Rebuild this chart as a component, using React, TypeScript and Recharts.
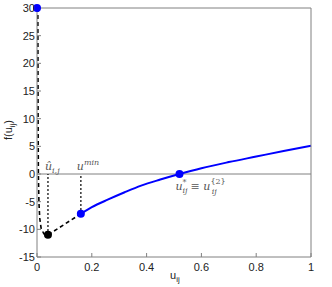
import React from 'react';
import { ComposedChart, Line, XAxis, YAxis, ReferenceLine, ReferenceDot, Scatter } from 'recharts';

const xTicks = [0, 0.2, 0.4, 0.6, 0.8, 1];
const yTicks = [-15, -10, -5, 0, 5, 10, 15, 20, 25, 30];

const curveU = [0.16, 0.2, 0.26, 0.32, 0.38, 0.45, 0.52, 0.6, 0.7, 0.8, 0.9, 1.0];
const curveF = [-7.2, -6.0, -4.6, -3.3, -2.1, -1.0, 0, 1.05, 2.15, 3.15, 4.15, 5.1];

const dashU = [0.003, 0.004, 0.005, 0.007, 0.01, 0.015, 0.025, 0.04, 0.16];
const dashF = [30, 10, 0, -5, -8, -9.8, -10.8, -11, -7.2];

const blueDotU = [0, 0.16, 0.52];
const blueDotF = [30, -7.2, 0];

const blackDotU = [0.04];
const blackDotF = [-11];

const curve = curveU.map((u, i) => ({ u, f: curveF[i] }));
const dashed = dashU.map((u, i) => ({ u, f: dashF[i] }));
const blueDots = blueDotU.map((u, i) => ({ u, f: blueDotF[i] }));
const blackDots = blackDotU.map((u, i) => ({ u, f: blackDotF[i] }));
const dot1 = [{ u: 0.04, f: -11 }, { u: 0.04, f: 0 }];
const dot2 = [{ u: 0.16, f: -7.2 }, { u: 0.16, f: 0 }];

const axisColor = '#808080';
const tickStyle = { fontSize: 11, fill: '#222', fontFamily: 'Liberation Sans, Arial, sans-serif' };
const mathFont = 'DejaVu Serif, Liberation Serif, serif';

export default function App() {
  return (
    <div style={{ position: 'absolute', left: 0, top: 0, background: '#fff' }}>
      <ComposedChart width={332} height={287} margin={{ top: 7, right: 20, left: 36, bottom: 29 }}>
        <XAxis xAxisId="b" dataKey="u" type="number" domain={[0, 1]} ticks={xTicks} height={1}
          stroke={axisColor} tickSize={-4} tickMargin={10} tick={tickStyle} tickFormatter={(v) => String(v)} interval={0} />
        <XAxis xAxisId="t" orientation="top" dataKey="u" type="number" domain={[0, 1]} ticks={xTicks} height={1}
          stroke={axisColor} tickSize={-4} tick={false} interval={0} />
        <YAxis yAxisId="l" type="number" domain={[-15, 30]} ticks={yTicks} width={1}
          stroke={axisColor} tickSize={-4} tickMargin={6} tick={tickStyle} interval={0} />
        <YAxis yAxisId="r" orientation="right" type="number" domain={[-15, 30]} ticks={yTicks} width={1}
          stroke={axisColor} tickSize={-4} tick={false} interval={0} />
        <ReferenceLine xAxisId="b" yAxisId="l" y={0} stroke={axisColor} strokeWidth={1} />
        <Line xAxisId="b" yAxisId="l" data={dot1} dataKey="f" stroke="#000" strokeWidth={1.6} strokeDasharray="1.5 2.5" dot={false} isAnimationActive={false} />
        <Line xAxisId="b" yAxisId="l" data={dot2} dataKey="f" stroke="#000" strokeWidth={1.6} strokeDasharray="1.5 2.5" dot={false} isAnimationActive={false} />
        <Line xAxisId="b" yAxisId="l" data={dashed} dataKey="f" type="linear" stroke="#000" strokeWidth={1.6} strokeDasharray="4 3" dot={false} isAnimationActive={false} />
        <Line xAxisId="b" yAxisId="l" data={curve} dataKey="f" type="monotone" stroke="#0000ff" strokeWidth={2} dot={false} isAnimationActive={false} />
        <Scatter xAxisId="b" yAxisId="l" data={blueDots} dataKey="f" fill="#0000ff"
          shape={(p: any) => <circle cx={p.cx} cy={p.cy} r={4} fill="#0000ff" />} isAnimationActive={false} />
        <Scatter xAxisId="b" yAxisId="l" data={blackDots} dataKey="f" fill="#000"
          shape={(p: any) => <circle cx={p.cx} cy={p.cy} r={4} fill="#000" />} isAnimationActive={false} />
        <ReferenceDot xAxisId="b" yAxisId="l" x={0.04} y={0} r={0}
          shape={(p: any) => (
            <text x={p.cx - 3} y={p.cy - 4} fontFamily={mathFont} fontStyle="italic" fontSize={11} fill="#555">
              û<tspan dy={3} fontSize={8}>i,j</tspan>
            </text>
          )} />
        <ReferenceDot xAxisId="b" yAxisId="l" x={0.16} y={0} r={0}
          shape={(p: any) => (
            <text x={p.cx - 4} y={p.cy - 4} fontFamily={mathFont} fontStyle="italic" fontSize={11} fill="#555">
              u<tspan dy={-5} fontSize={8}>min</tspan>
            </text>
          )} />
        <ReferenceDot xAxisId="b" yAxisId="l" x={0.52} y={0} r={0}
          shape={(p: any) => (
            <text x={p.cx - 4} y={p.cy + 16} fontFamily={mathFont} fontSize={11} fill="#555">
              <tspan fontStyle="italic">u</tspan>
              <tspan dy={-5} fontSize={8}>*</tspan>
              <tspan dx={-4} dy={8} fontSize={8} fontStyle="italic">ij</tspan>
              <tspan dy={-3} dx={3}>≡ </tspan>
              <tspan fontStyle="italic">u</tspan>
              <tspan dy={-6} fontSize={8}>{'{2}'}</tspan>
              <tspan dx={-14} dy={10} fontSize={8} fontStyle="italic">ij</tspan>
            </text>
          )} />
      </ComposedChart>
      <svg width={332} height={287} style={{ position: 'absolute', left: 0, top: 0, pointerEvents: 'none' }}>
        <text transform="translate(12,130) rotate(-90)" textAnchor="middle" fontSize={11} fill="#222" fontFamily="Liberation Sans, Arial, sans-serif">
          f(u<tspan dy={3} fontSize={8}>ij</tspan><tspan dy={-3}>)</tspan>
        </text>
        <text x={170} y={279} fontSize={11} fill="#222" fontFamily="Liberation Sans, Arial, sans-serif">
          u<tspan dy={3} fontSize={8}>ij</tspan>
        </text>
      </svg>
    </div>
  );
}
